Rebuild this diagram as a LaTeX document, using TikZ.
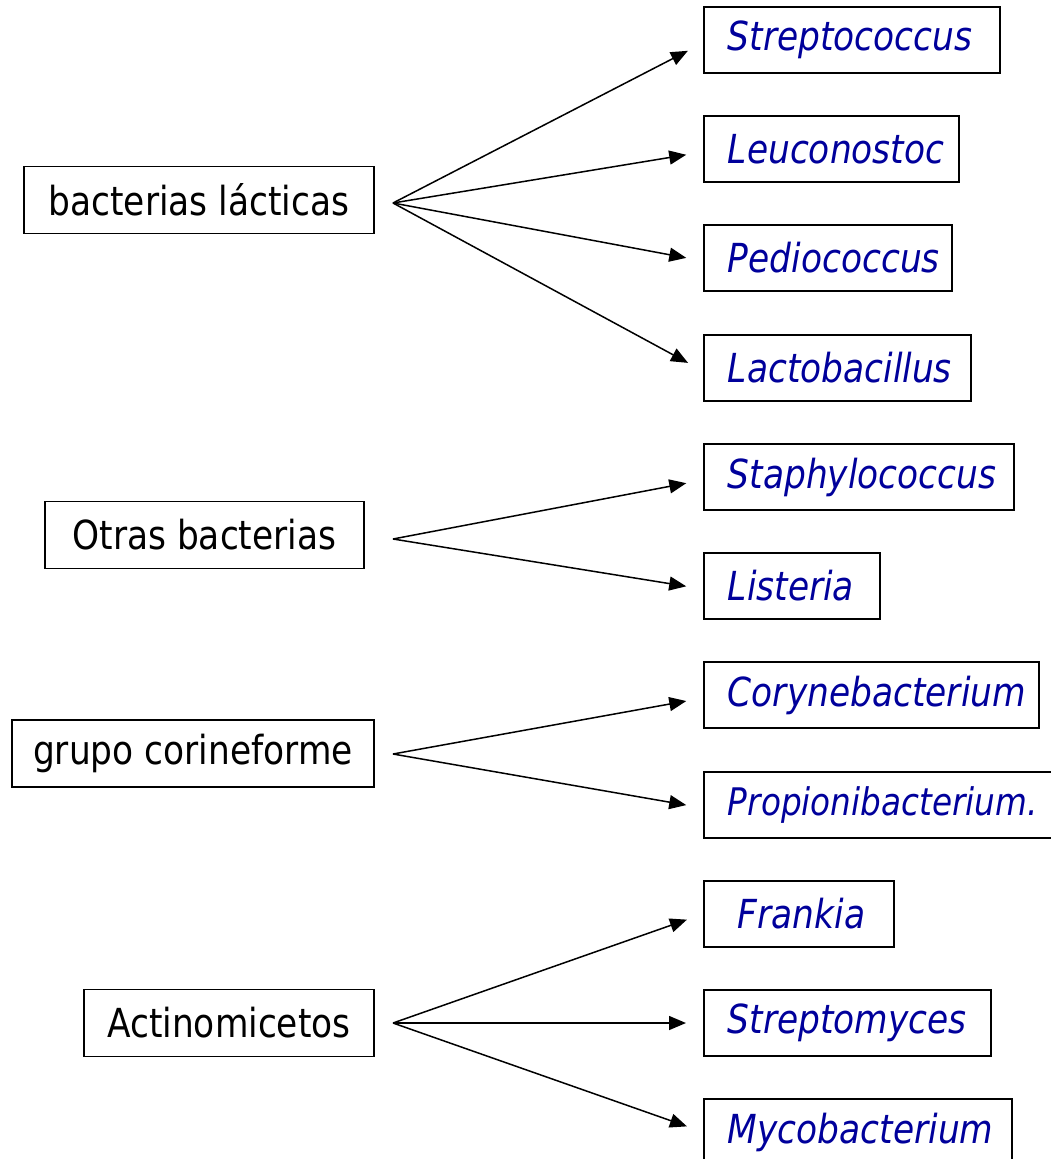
\documentclass[tikz,border=0pt]{standalone}
\usepackage{fontspec}
\setmainfont{DejaVu Sans}
\newfontfamily\comicfont[FakeStretch=0.86]{DejaVu Sans}
\usetikzlibrary{arrows.meta}
\definecolor{genusblue}{RGB}{0,0,155}
\tikzset{
  grp/.style={draw=black, line width=1.8pt, inner sep=0pt, minimum height=67pt,
    font=\comicfont\fontsize{40}{44}\selectfont, text=black, anchor=west},
  gen/.style={draw=black, line width=1.8pt, inner sep=0pt, minimum height=66pt,
    font=\comicfont\itshape\fontsize{40}{44}\selectfont, text=genusblue, anchor=west,
    align=left},
  conn/.style={line width=1.5pt, -{Triangle[length=17pt,width=14pt]}, shorten >=17pt}
}
\begin{document}
\begin{tikzpicture}[x=1pt,y=-1pt]
\useasboundingbox (0,0) rectangle (1051,1159);
\begin{scope}
\clip (0,0) rectangle (1051,1159);
% group boxes
\node[grp, minimum width=350pt] (g1) at (23,200) {bacterias lácticas};
\node[grp, minimum width=319pt] (g2) at (44,535) {Otras bacterias};
\node[grp, minimum width=362pt] (g3) at (11,753.5) {grupo corineforme};
\node[grp, minimum width=290pt] (g4) at (83,1023) {Actinomicetos};
% genus boxes
\node[gen, text width=248pt, inner xsep=24pt] (s1) at (703,40) {Streptococcus};
\node[gen, text width=207pt, inner xsep=24pt] (s2) at (703,149) {Leuconostoc};
\node[gen, text width=200pt, inner xsep=24pt] (s3) at (703,258) {Pediococcus};
\node[gen, text width=219pt, inner xsep=24pt] (s4) at (703,368) {Lactobacillus};
\node[gen, text width=262pt, inner xsep=24pt] (s5) at (703,477) {Staphylococcus};
\node[gen, text width=128pt, inner xsep=24pt] (s6) at (703,586) {Listeria};
\node[gen, text width=287pt, inner xsep=24pt] (s7) at (703,695) {Corynebacterium};
\node[gen, text width=310pt, inner xsep=24pt, font=\comicfont\itshape\fontsize{38}{42}\selectfont] (s8) at (703,805) {Propionibacterium.};
\node[gen, text width=122pt, inner xsep=34pt] (s9) at (703,914) {Frankia};
\node[gen, text width=239pt, inner xsep=24pt] (s10) at (703,1023) {Streptomyces};
\node[gen, text width=260pt, inner xsep=24pt] (s11) at (703,1132) {Mycobacterium};
% fan-out points
\coordinate (o1) at (393,203);
\coordinate (o2) at (393,539);
\coordinate (o3) at (393,754);
\coordinate (o4) at (393,1023);
% connectors
\foreach \t in {s1,s2,s3,s4} \draw[conn] (o1) -- ([yshift=-3pt]\t.west);
\foreach \t in {s5,s6} \draw[conn] (o2) -- ([yshift=-3pt]\t.west);
\foreach \t in {s7,s8} \draw[conn] (o3) -- ([yshift=-3pt]\t.west);
\foreach \t in {s9,s10,s11} \draw[conn] (o4) -- (\t.west);
\end{scope}
\end{tikzpicture}
\end{document}
